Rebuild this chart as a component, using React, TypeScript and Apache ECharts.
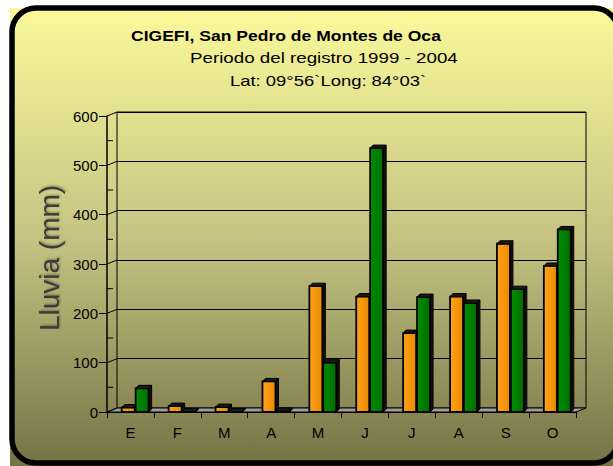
import React, { useEffect, useRef } from "react";
import * as echarts from "echarts";

const months = ["E", "F", "M", "A", "M", "J", "J", "A", "S", "O"];
const serieNaranja = [9, 12, 10, 62, 255, 234, 160, 234, 341, 296];
const serieVerde = [48, 1, 1, 2, 100, 535, 233, 221, 249, 370];
const yTicks = [0, 100, 200, 300, 400, 500, 600];
const yMinorTicks = [50, 150, 250, 350, 450, 550];

const titulo = "CIGEFI, San Pedro de Montes de Oca";
const subtitulo1 = "Periodo del registro 1999 - 2004";
const subtitulo2 = "Lat: 09°56`Long: 84°03`";
const ejeY = "Lluvia (mm)";

const FONT = "'Liberation Sans', Arial, sans-serif";
const DX = 10;
const DY = -4;
const D = 3;

function barRenderer(offset: number, width: number, c1: string, c2: string) {
  return (params: any, api: any) => {
    const idx = api.value(0);
    const val = api.value(1);
    const base = api.coord([idx, 0]);
    const top = api.coord([idx, val]);
    const x0 = base[0] + offset;
    const yb = base[1];
    const yt = top[1];
    const w = width;
    return {
      type: "group",
      children: [
        {
          type: "polygon",
          shape: { points: [[x0 + w, yt], [x0 + w + D, yt - D], [x0 + w + D, yb - D], [x0 + w, yb]] },
          style: { fill: "#111", stroke: "#000", lineWidth: 1 },
        },
        {
          type: "rect",
          shape: { x: x0, y: yt, width: w, height: yb - yt },
          style: {
            fill: new echarts.graphic.LinearGradient(0, 0, 1, 0, [
              { offset: 0, color: c1 },
              { offset: 1, color: c2 },
            ]),
            stroke: "#000",
            lineWidth: 1.8,
          },
        },
        {
          type: "polygon",
          shape: { points: [[x0, yt], [x0 + D, yt - D], [x0 + w + D, yt - D], [x0 + w, yt]] },
          style: { fill: "#1a1a1a", stroke: "#000", lineWidth: 1 },
        },
      ],
    };
  };
}

function frameRenderer(params: any, api: any) {
  const cw = api.size([1, 0])[0];
  const first = api.coord([0, 0]);
  const last = api.coord([months.length - 1, 0]);
  const L = first[0] - cw / 2;
  const R = last[0] + cw / 2;
  const y0 = first[1];
  const children: any[] = [
    {
      type: "polygon",
      shape: { points: [[L, y0], [R, y0], [R + DX, y0 + DY], [L + DX, y0 + DY]] },
      style: { fill: "#9c9c9c", stroke: "#000", lineWidth: 1 },
    },
  ];
  yTicks.forEach((v) => {
    const p = api.coord([0, v]);
    children.push({
      type: "line",
      shape: { x1: L, y1: p[1], x2: L + DX, y2: p[1] + DY },
      style: { stroke: "#000", lineWidth: 1 },
    });
  });
  yMinorTicks.forEach((v) => {
    const p = api.coord([0, v]);
    children.push({
      type: "line",
      shape: { x1: L, y1: p[1], x2: L + 6, y2: p[1] },
      style: { stroke: "#000", lineWidth: 1 },
    });
  });
  return { type: "group", children };
}

export default function App() {
  const ref = useRef<HTMLDivElement>(null);
  useEffect(() => {
    document.body.style.margin = "0";
    const chart = echarts.init(ref.current!, null, { renderer: "svg" });
    const gridH = 296;
    const gridW = 469;
    chart.setOption({
      animation: false,
      graphic: [
        {
          type: "rect",
          z: -10,
          shape: { x: 10, y: 8, width: 610, height: 460 },
          style: {
            fill: new echarts.graphic.LinearGradient(0, 0, 0, 1, [
              { offset: 0, color: "#FBF99A" },
              { offset: 0.5, color: "#C6C383" },
              { offset: 1, color: "#747244" },
            ]),
          },
        },
        {
          type: "rect",
          z: 100,
          shape: { x: 12, y: 8, width: 606, height: 455, r: 24 },
          style: { fill: "none", stroke: "#000", lineWidth: 5.5 },
        },
        {
          type: "text",
          z: 100,
          x: 131,
          y: 35,
          style: { text: titulo, font: `bold 15px ${FONT}`, fill: "#000", verticalAlign: "middle", align: "left" },
          scaleX: 1.17,
        },
        {
          type: "text",
          z: 100,
          x: 190,
          y: 58,
          style: { text: subtitulo1, font: `15px ${FONT}`, fill: "#000", verticalAlign: "middle", align: "left" },
          scaleX: 1.25,
        },
        {
          type: "text",
          z: 100,
          x: 230,
          y: 81,
          style: { text: subtitulo2, font: `15px ${FONT}`, fill: "#000", verticalAlign: "middle", align: "left" },
          scaleX: 1.23,
        },
        {
          type: "text",
          z: 100,
          x: 49,
          y: 258,
          rotation: Math.PI / 2,
          style: {
            text: ejeY,
            font: `28px ${FONT}`,
            fill: "#3a3a3a",
            align: "center",
            verticalAlign: "middle",
            textShadowColor: "rgba(0,0,0,0.35)",
            textShadowBlur: 2,
            textShadowOffsetX: 1,
            textShadowOffsetY: 1,
          },
        },
      ],
      grid: [
        { left: 107, top: 116, width: gridW, height: gridH },
        {
          left: 107 + DX,
          top: 116 + DY,
          width: gridW,
          height: gridH,
          show: true,
          borderColor: "#000",
          borderWidth: 1,
          backgroundColor: "transparent",
        },
      ],
      xAxis: [
        {
          type: "category",
          gridIndex: 0,
          data: months,
          boundaryGap: true,
          axisLine: { show: true, lineStyle: { color: "#000", width: 1 } },
          axisTick: { show: true, length: 6, lineStyle: { color: "#000" } },
          axisLabel: { color: "#000", fontSize: 15, fontFamily: FONT, margin: 13 },
          splitLine: { show: false },
          z: 5,
        },
        {
          type: "category",
          gridIndex: 1,
          data: months,
          show: false,
        },
      ],
      yAxis: [
        {
          type: "value",
          gridIndex: 0,
          position: "left",
          min: 0,
          max: 600,
          interval: 100,
          axisLine: { show: true, lineStyle: { color: "#000", width: 1.5 } },
          axisTick: { show: true, length: 8, lineStyle: { color: "#000" } },
          axisLabel: { color: "#000", fontSize: 15, fontFamily: FONT, margin: 9 },
          splitLine: { show: false },
          z: 5,
        },
        {
          type: "value",
          gridIndex: 1,
          min: 0,
          max: 600,
          interval: 100,
          axisLine: { show: false },
          axisTick: { show: false },
          axisLabel: { show: false },
          splitLine: { show: true, lineStyle: { color: "#000", width: 1 } },
        },
      ],
      series: [
        {
          type: "custom",
          xAxisIndex: 0,
          yAxisIndex: 0,
          z: 1,
          data: [[0, 0]],
          renderItem: frameRenderer,
          silent: true,
        },
        {
          type: "custom",
          xAxisIndex: 0,
          yAxisIndex: 0,
          z: 3,
          data: serieNaranja.map((v, i) => [i, v]),
          renderItem: barRenderer(-8.7, 13, "#FFA21A", "#EC8A00"),
        },
        {
          type: "custom",
          xAxisIndex: 0,
          yAxisIndex: 0,
          z: 3,
          data: serieVerde.map((v, i) => [i, v]),
          renderItem: barRenderer(5.2, 13, "#008C00", "#006E00"),
        },
      ],
    });
    return () => chart.dispose();
  }, []);
  return <div ref={ref} style={{ width: 613, height: 466 }} />;
}
